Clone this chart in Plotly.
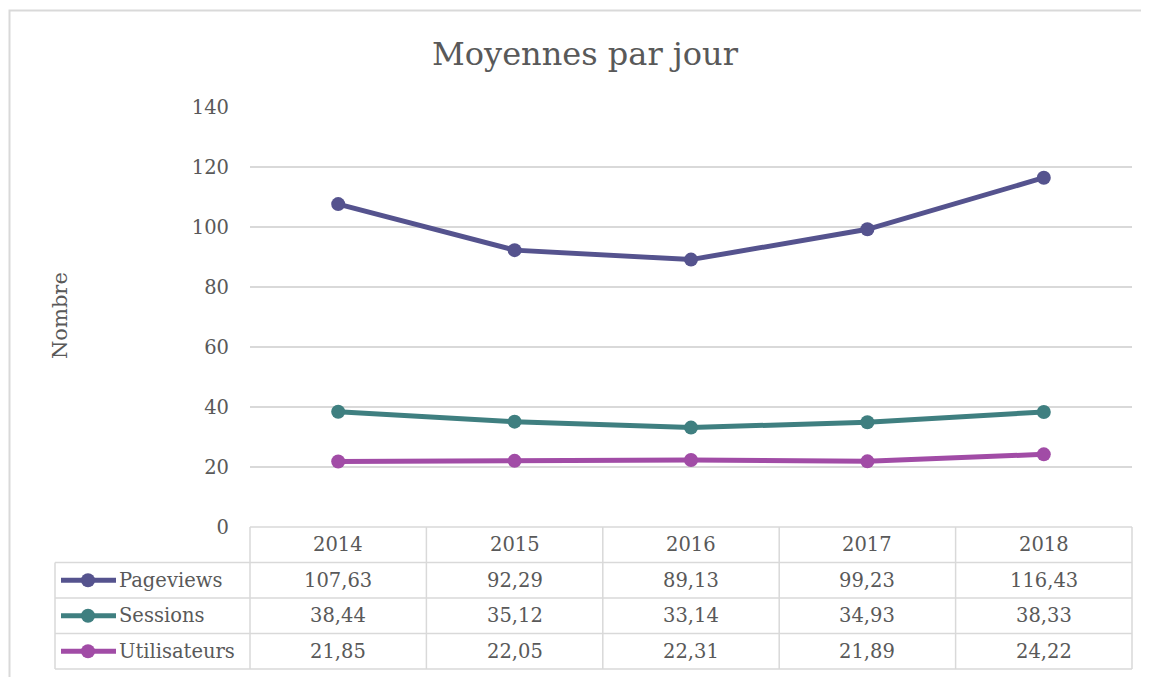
import plotly.graph_objects as go

years = ['2014', '2015', '2016', '2017', '2018']
pageviews = [107.63, 92.29, 89.13, 99.23, 116.43]
sessions = [38.44, 35.12, 33.14, 34.93, 38.33]
utilisateurs = [21.85, 22.05, 22.31, 21.89, 24.22]
series_names = ['Pageviews', 'Sessions', 'Utilisateurs']
y_ticks = [0, 20, 40, 60, 80, 100, 120, 140]

colors = ['#55538E', '#3F7F80', '#A14CA6']
series = [pageviews, sessions, utilisateurs]

W, H = 1149, 677
OFF = 8  # page body margin
PL, PR, PT, PB = 250, 1132, 107, 527  # plot area in page pixels
L, R, T, B = PL - OFF, W - (PR - OFF), PT - OFF, H - (PB - OFF)
pw = PR - PL
ph = PB - PT
FONT = 'DejaVu Serif'
GREY = '#595959'
LINE_GREY = '#D9D9D9'
ROW_H = 35.5


# page pixel -> paper helpers (layout only)
def px_x(x):
    return (x - PL) / pw


def px_y(y):
    return (PB - y) / ph


def fr(v):
    return f'{v:.2f}'.replace('.', ',')


fig = go.Figure()
for name, vals, col in zip(series_names, series, colors):
    fig.add_trace(go.Scatter(
        x=years, y=vals, name=name, mode='lines+markers',
        line=dict(color=col, width=5),
        marker=dict(color=col, size=14),
        showlegend=False,
    ))

shapes = []
annotations = []

# outer chart border
shapes.append(dict(type='rect', xref='paper', yref='paper',
                   x0=px_x(9.5), x1=px_x(1146), y0=px_y(700), y1=px_y(10.5),
                   line=dict(color=LINE_GREY, width=2)))

n = len(years)
top = PB
rows = len(series_names)
# data table grid
tline = dict(color=LINE_GREY, width=1.5)
shapes.append(dict(type='line', xref='paper', yref='paper', x0=0, x1=1,
                   y0=px_y(top), y1=px_y(top), line=tline))
for r in range(1, rows + 2):
    yy = px_y(top + r * ROW_H)
    shapes.append(dict(type='line', xref='paper', yref='paper',
                       x0=px_x(55), x1=1, y0=yy, y1=yy, line=tline))
for i in range(n + 1):
    shapes.append(dict(type='line', xref='paper', yref='paper',
                       x0=i / n, x1=i / n, y0=px_y(top),
                       y1=px_y(top + (rows + 1) * ROW_H), line=tline))
shapes.append(dict(type='line', xref='paper', yref='paper',
                   x0=px_x(55), x1=px_x(55), y0=px_y(top + ROW_H),
                   y1=px_y(top + (rows + 1) * ROW_H), line=tline))

cell_font = dict(family=FONT, size=19.5, color=GREY)
for i, yr in enumerate(years):
    annotations.append(dict(xref='paper', yref='paper', x=(i + 0.5) / n,
                            y=px_y(top + ROW_H / 2), text=yr, showarrow=False,
                            font=cell_font, xanchor='center', yanchor='middle'))
for r, (name, vals, col) in enumerate(zip(series_names, series, colors)):
    cy = top + (r + 1.5) * ROW_H
    for i, v in enumerate(vals):
        annotations.append(dict(xref='paper', yref='paper', x=(i + 0.5) / n,
                                y=px_y(cy), text=fr(v), showarrow=False,
                                font=cell_font, xanchor='center', yanchor='middle'))
    # legend key
    shapes.append(dict(type='line', xref='paper', yref='paper',
                       x0=px_x(61), x1=px_x(116), y0=px_y(cy), y1=px_y(cy),
                       line=dict(color=col, width=5)))
    shapes.append(dict(type='circle', xref='paper', yref='paper',
                       x0=px_x(81), x1=px_x(95), y0=px_y(cy - 7), y1=px_y(cy + 7),
                       fillcolor=col, line=dict(color=col, width=0)))
    annotations.append(dict(xref='paper', yref='paper', x=px_x(117), y=px_y(cy),
                            text=name, showarrow=False, font=cell_font,
                            xanchor='left', yanchor='middle'))

# y axis title
annotations.append(dict(xref='paper', yref='paper', x=px_x(60), y=px_y(316),
                        text='Nombre', textangle=-90, showarrow=False,
                        font=dict(family=FONT, size=21, color=GREY),
                        xanchor='center', yanchor='middle'))

fig.update_layout(
    width=W, height=H,
    margin=dict(l=L, r=R, t=T, b=B),
    paper_bgcolor='white', plot_bgcolor='white',
    title=dict(text='Moyennes par jour', x=(585 - OFF) / W, xanchor='center',
               y=1 - (54 - OFF) / H, yanchor='middle',
               font=dict(family=FONT, size=32, color=GREY)),
    xaxis=dict(range=[-0.5, n - 0.5], showticklabels=False, showgrid=False,
               zeroline=False, showline=False, fixedrange=True),
    yaxis=dict(range=[0, 140], tickvals=y_ticks, showgrid=True,
               gridcolor=LINE_GREY, gridwidth=1.5, zeroline=False, showline=False,
               tickfont=dict(family=FONT, size=19.5, color=GREY),
               ticklabelstandoff=20),
    shapes=shapes,
    annotations=annotations,
)

fig.write_html('out.html')
